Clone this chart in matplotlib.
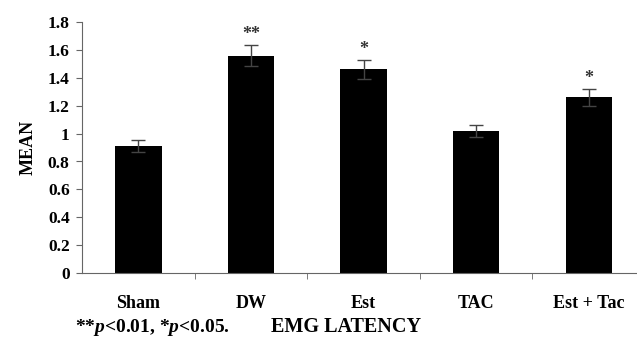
import numpy as np
import matplotlib.pyplot as plt

plt.rcParams['font.family'] = 'Liberation Serif'
plt.rcParams['font.weight'] = 'bold'
plt.rcParams['axes.labelweight'] = 'bold'
plt.rcParams['mathtext.fontset'] = 'custom'
plt.rcParams['mathtext.it'] = 'Liberation Serif:italic:bold'
plt.rcParams['mathtext.rm'] = 'Liberation Serif:bold'

groups = ['Sham', 'DW', 'Est', 'TAC', 'Est + Tac']
means = [0.91, 1.56, 1.46, 1.02, 1.26]
errs = [0.045, 0.075, 0.07, 0.045, 0.06]
stars = ['', '**', '*', '', '*']

fig = plt.figure(figsize=(6.37, 3.40), dpi=100)
ax = fig.add_axes([0.129, 0.197, 0.871, 0.738])

x = np.arange(len(groups))
ax.bar(x, means, width=0.41, color='black', zorder=2)
ax.errorbar(x, means, yerr=errs, fmt='none', ecolor='#444444', elinewidth=1.0,
            capsize=5, capthick=1.0, zorder=3)
for xi, m, e, s in zip(x, means, errs, stars):
    if s:
        ax.text(xi, m + e + 0.015, s, ha='center', va='bottom', fontsize=13,
                color='#333333')

ax.set_xlim(-0.5, 4.43)
ax.set_ylim(0, 1.8)
ax.set_yticks(np.arange(0, 1.81, 0.2))
ax.set_yticklabels(['0', '0.2', '0.4', '0.6', '0.8', '1', '1.2', '1.4', '1.6', '1.8'])
ax.set_xticks(x)
ax.set_xticklabels(groups)
ax.set_xticks(np.arange(0.5, 4, 1), minor=True)
ax.tick_params(axis='x', which='major', length=0, pad=16, labelsize=13)
ax.tick_params(axis='x', which='minor', length=4, color='#666666')
ax.tick_params(axis='y', length=4, color='#666666', labelsize=12.5, pad=5)

for sp in ['top', 'right']:
    ax.spines[sp].set_visible(False)
ax.spines['left'].set_color('#666666')
ax.spines['bottom'].set_color('#666666')

ax.set_ylabel('MEAN', fontsize=13, labelpad=8)
fig.text(0.543, 0.008, 'EMG LATENCY', ha='center', va='bottom', fontsize=14.5)
fig.text(0.117, 0.038, r'**$p$<0.01, *$p$<0.05.', ha='left', va='center',
         fontsize=14)

fig.savefig('out.png', dpi=100)
